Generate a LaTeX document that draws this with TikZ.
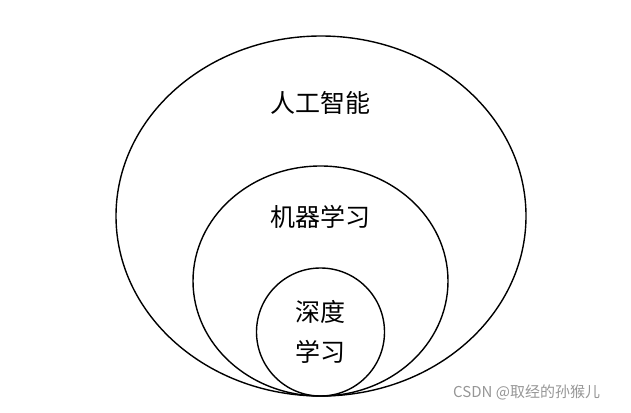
\documentclass[tikz,border=0pt]{standalone}
\usepackage{fontspec}
\newfontfamily\cjk{Noto Sans CJK SC}
\usetikzlibrary{shapes.geometric}
\usepackage{xcolor}
\definecolor{markgrey}{RGB}{150,150,150}

\begin{document}
\begin{tikzpicture}[x=1pt, y=-1pt, every node/.style={font=\cjk\fontsize{25}{40}\selectfont}]
\useasboundingbox (0,0) rectangle (631,412);
\node[draw, ellipse, line width=1.4pt, minimum width=410pt, minimum height=360pt, inner sep=0pt] (ai) at (321,216) {};
\node[draw, ellipse, line width=1.4pt, minimum width=255pt, minimum height=230pt, inner sep=0pt] (ml) at (320.5,281) {};
\node[draw, circle, line width=1.4pt, minimum size=128pt, inner sep=0pt] (dl) at (320.5,332) {};
\node (ailabel) at (320,103) {人工智能};
\node (mllabel) at (320,217) {机器学习};
\node[align=center] (dllabel) at (320,332) {深度\\学习};
\node[font=\cjk\fontsize{15}{18}\selectfont, text=markgrey, anchor=west, inner sep=0pt] (mark) at (453,392) {CSDN @取经的孙猴儿};
\end{tikzpicture}
\end{document}
